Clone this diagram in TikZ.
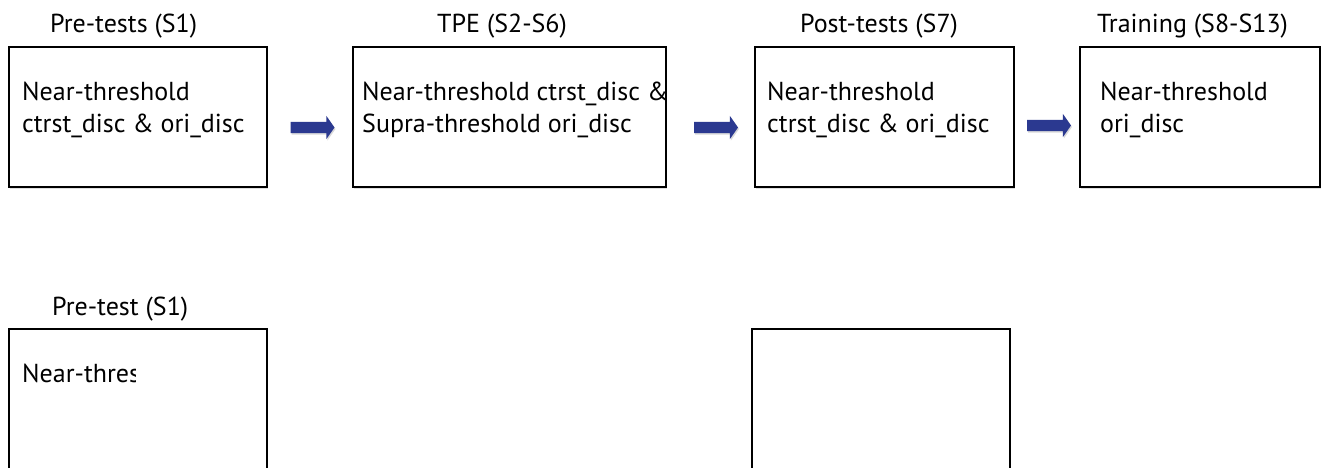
\documentclass[tikz,border=0pt]{standalone}
\usepackage{fontspec}
\setmainfont{PT Sans}
\usetikzlibrary{shapes.arrows,shadows,calc}
\definecolor{arrowblue}{RGB}{43,57,144}
\tikzset{
  stagebox/.style={draw=black, line width=1.8pt, fill=white, inner sep=0pt,
    drop shadow={shadow xshift=1.5pt, shadow yshift=-2.5pt, opacity=0.25}},
  stagetitle/.style={anchor=base west, inner sep=0pt, font=\fontsize{26}{32}\selectfont},
  boxtext/.style={anchor=base west, inner sep=0pt, align=left, font=\fontsize{26}{32}\selectfont},
  flowarrow/.style={single arrow, fill=arrowblue, draw=none, minimum height=44pt,
    single arrow head extend=6pt, single arrow tip angle=110, inner sep=0pt,
    drop shadow={shadow xshift=1pt, shadow yshift=-1.5pt, opacity=0.3}},
}
\newcommand{\shaft}{\rule{0pt}{11pt}}
\begin{document}
\begin{tikzpicture}[x=1pt,y=-1pt]
\useasboundingbox (0,0) rectangle (1321,467);
\clip (0,0) rectangle (1321,467);
% top row boxes
\node[stagebox, minimum width=258pt, minimum height=140pt, anchor=north west] (b1) at (8,46) {};
\node[stagebox, minimum width=313pt, minimum height=140pt, anchor=north west] (b2) at (352,46) {};
\node[stagebox, minimum width=259pt, minimum height=140pt, anchor=north west] (b3) at (754,46) {};
\node[stagebox, minimum width=240pt, minimum height=140pt, anchor=north west] (b4) at (1079,46) {};
% bottom row boxes
\node[stagebox, minimum width=258pt, minimum height=160pt, anchor=north west] (c1) at (8,328) {};
\node[stagebox, minimum width=258pt, minimum height=160pt, anchor=north west] (c3) at (751,328) {};
% titles
\node[stagetitle] (t1) at (50,32) {Pre-tests (S1)};
\node[stagetitle] (t2) at (437,32) {TPE (S2-S6)};
\node[stagetitle] (t3) at (800,32) {Post-tests (S7)};
\node[stagetitle] (t4) at (1097,32) {Training (S8-S13)};
\node[stagetitle] (t5) at (52,315) {Pre-test (S1)};
% box texts (base anchor = last line baseline)
\node[boxtext] (x1) at (22,132) {Near-threshold\\ctrst\_disc \& ori\_disc};
\node[boxtext] (x2) at (362,132) {Near-threshold ctrst\_disc \&\\Supra-threshold ori\_disc};
\node[boxtext] (x3) at (767,132) {Near-threshold\\ctrst\_disc \& ori\_disc};
\node[boxtext] (x4) at (1100,132) {Near-threshold\\ori\_disc};
\begin{scope}
\clip (10,340) rectangle (135,400);
\node[boxtext] (x5) at (22,382) {Near-threshold};
\end{scope}
% arrows
\node[flowarrow] (a1) at (310.5,127.5) {\shaft};
\node[flowarrow] (a2) at (714,127.5) {\shaft};
\node[flowarrow] (a3) at (1047,125.5) {\shaft};
\end{tikzpicture}
\end{document}
